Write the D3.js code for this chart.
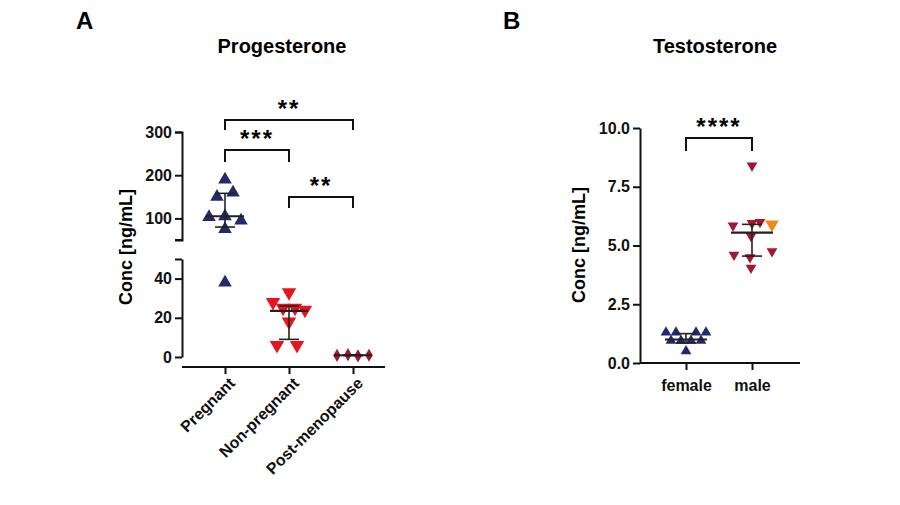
<!DOCTYPE html>
<html><head><meta charset="utf-8">
<script src="https://cdn.jsdelivr.net/npm/d3@7"></script>
<style>body{margin:0;background:#fff;font-family:"Liberation Sans",Arial,sans-serif}</style>
</head><body><div></div>
<script>
// Panel A data
let progCats = ["Pregnant", "Non-pregnant", "Post-menopause"]
let pregnant = [190, 150, 160, 103, 105, 95, 75, 38]
let nonPregnant = [33, 28, 25, 25, 24, 18, 6, 6]
let postMeno = [0.8, 1.2, 0.6, 0.9]
let progMedian = [105, 23.5, 0.9]
let progLow = [80, 9, 0.7]
let progHigh = [158, 26, 1.1]
let progTicksUpper = [100, 200, 300]
let progTicksLower = [0, 20, 40]

// Panel B data
let testoCats = ["female", "male"]
let female = [1.3, 1.3, 1.3, 1.3, 0.95, 0.95, 0.95, 0.95, 0.5]
let male = [8.4, 5.85, 5.95, 6.0, 5.4, 4.6, 4.5, 4.75, 4.05]
let maleHighlight = [5.9]
let testoMean = [1.0, 5.55]
let testoLow = [0.85, 4.55]
let testoHigh = [1.25, 5.9]
let testoTicks = [0, 2.5, 5, 7.5, 10]

let w = 900, h = 505
let svg = d3.select("div").append("svg").attr("width", w).attr("height", h)
  .style("font-family", "Liberation Sans, Arial, sans-serif")

let navy = "#27286b", red = "#e8131b", dred = "#a3182f", orange = "#f0891c"

// offsets for beeswarm-like spread (pixels)
let offPreg = [0, -8, 8, -16, 0, 16, 0, 0]
let offNon = [0, -16, -6, 6, 16, 0, -12, 8]
let offPost = [-16, -5, 5, 16]
let offFem = [-20, -10, 10, 20, -15, -5, 5, 15, 0]
let offMale = [0, -19, 0, 8, -1, -18, -2, 20, -1]

function sym(type, size) { return d3.symbol().type(type).size(size)() }

// ---------- Panel A ----------
let xA = d3.scalePoint().domain(progCats).range([225, 353])
let yUp = d3.scaleLinear().domain([50, 300]).range([240, 132])
let yLo = d3.scaleLinear().domain([0, 50]).range([357, 259])
let yA = v => v >= 50 ? yUp(v) : yLo(v)
let axX = 182

svg.append("g").attr("transform", `translate(${axX},0)`)
  .call(d3.axisLeft(yUp).tickValues([...progTicksUpper]).tickSize(7).tickSizeOuter(7))
svg.append("g").attr("transform", `translate(${axX},0)`)
  .call(d3.axisLeft(yLo).tickValues(progTicksLower.concat([50])).tickFormat(d => d == 50 ? "" : d).tickSize(7).tickSizeOuter(0))
svg.append("line").attr("x1", axX - 7).attr("x2", axX).attr("y1", yUp(50)).attr("y2", yUp(50))
  .attr("stroke", "#111").attr("stroke-width", 2)
let xg = svg.append("g").attr("transform", `translate(0,367)`)
  .call(d3.axisBottom(xA).tickSize(7).tickSizeOuter(0))
  .call(g => g.select(".domain").attr("d", `M${axX},0H385`))
xg.selectAll("text").attr("transform", "rotate(-45)").attr("text-anchor", "end").attr("dx", "-0.3em").attr("dy", "0.6em")

let drawPts = (vals, offs, cx, yf, type, size, color, rot) => {
  vals.forEach((v, i) => {
    svg.append("path").attr("d", sym(type, size)).attr("fill", color)
      .attr("transform", `translate(${cx + offs[i]},${yf(v)}) rotate(${rot})`)
  })
}
drawPts(pregnant, offPreg, xA("Pregnant"), yA, d3.symbolTriangle, 80, navy, 0)
drawPts(nonPregnant, offNon, xA("Non-pregnant"), yA, d3.symbolTriangle, 90, red, 180)
drawPts(postMeno, offPost, xA("Post-menopause"), yA, d3.symbolDiamond, 50, dred, 0)

let errBars = (cats, xs, yf, mid, lo, hi, half) => {
  cats.forEach((c, i) => {
    let x = xs(c)
    let g = svg.append("g").attr("stroke", "#222").attr("stroke-width", 1.6)
    g.append("line").attr("x1", x - half).attr("x2", x + half).attr("y1", yf(mid[i])).attr("y2", yf(mid[i])).attr("stroke-width", 2.2)
    g.append("line").attr("x1", x).attr("x2", x).attr("y1", yf(lo[i])).attr("y2", yf(hi[i]))
    g.append("line").attr("x1", x - 10).attr("x2", x + 10).attr("y1", yf(lo[i])).attr("y2", yf(lo[i]))
    g.append("line").attr("x1", x - 10).attr("x2", x + 10).attr("y1", yf(hi[i])).attr("y2", yf(hi[i]))
  })
}
errBars(progCats, xA, yA, progMedian, progLow, progHigh, 19)

let bracket = (x1, x2, y, drop, label) => {
  svg.append("path").attr("d", `M${x1},${y + drop}V${y}H${x2}V${y + drop}`)
    .attr("fill", "none").attr("stroke", "#111").attr("stroke-width", 2)
  svg.append("text").attr("x", (x1 + x2) / 2).attr("y", y - 3).attr("text-anchor", "middle")
    .attr("font-size", 24).attr("font-weight", "bold").attr("letter-spacing", 2).text(label)
}
bracket(xA("Pregnant"), xA("Non-pregnant"), 150, 12, "***")
bracket(xA("Pregnant"), xA("Post-menopause"), 120, 10, "**")
bracket(xA("Non-pregnant"), xA("Post-menopause"), 197, 11, "**")

// ---------- Panel B ----------
let xB = d3.scalePoint().domain(testoCats).range([686, 752])
let yB = d3.scaleLinear().domain([0, 10]).range([363, 128])
let bx = 640
svg.append("g").attr("transform", `translate(${bx},0)`)
  .call(d3.axisLeft(yB).tickValues(testoTicks).tickFormat(d3.format(".1f")).tickSize(7).tickSizeOuter(0))
svg.append("g").attr("transform", `translate(0,363)`)
  .call(d3.axisBottom(xB).tickSize(7).tickSizeOuter(0))
  .call(g => g.select(".domain").attr("d", `M${bx},0H800`))
  .selectAll("text").attr("dy", "1.1em")

drawPts(female, offFem, xB("female"), yB, d3.symbolTriangle, 50, navy, 0)
drawPts(male, offMale, xB("male"), yB, d3.symbolTriangle, 50, dred, 180)
drawPts(maleHighlight, [20], xB("male"), yB, d3.symbolTriangle, 80, orange, 180)
errBars(testoCats, xB, yB, testoMean, testoLow, testoHigh, 21)
bracket(xB("female"), xB("male"), 138, 13, "****")

// styling of axes
svg.selectAll(".domain").attr("stroke", "#111").attr("stroke-width", 2)
svg.selectAll(".tick line").attr("stroke", "#111").attr("stroke-width", 2)
svg.selectAll(".tick text").attr("font-size", 16).attr("font-weight", "bold").attr("fill", "#111")
  .attr("font-family", "Liberation Sans, Arial, sans-serif")

// titles and labels
let txt = (x, y, s, size, anchor, rot) => svg.append("text").attr("x", x).attr("y", y)
  .attr("font-size", size).attr("font-weight", "bold").attr("text-anchor", anchor)
  .attr("transform", rot ? `rotate(-90,${x},${y})` : null).text(s)
txt(76, 29, "A", 24, "start")
txt(282, 53, "Progesterone", 20, "middle")
txt(503, 29, "B", 24, "start")
txt(715, 53, "Testosterone", 20, "middle")
txt(132, 247, "Conc [ng/mL]", 18, "middle", true)
txt(585, 245, "Conc [ng/mL]", 18, "middle", true)
</script></body></html>
